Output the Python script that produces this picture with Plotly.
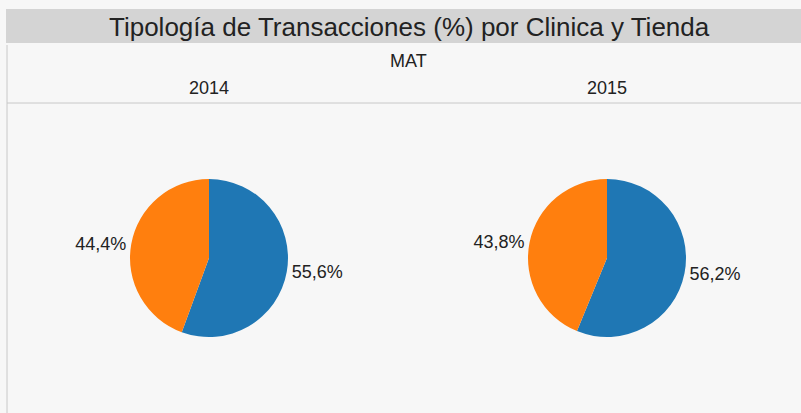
import plotly.graph_objects as go

title = "Tipología de Transacciones (%) por Clinica y Tienda"
header = "MAT"
years = ["2014", "2015"]
segments = ["Clinica", "Tienda"]
values_2014 = [55.6, 44.4]
values_2015 = [56.2, 43.8]
colors = ["#1f77b4", "#ff7f0e"]

W, H = 801, 413

fig = go.Figure()

# posiciones de cada pie (centro en px)
centers = [209, 607]
cy = 258
r = 79

for year, vals, cx in zip(years, [values_2014, values_2015], centers):
    fig.add_trace(go.Pie(
        labels=segments,
        values=vals,
        sort=False,
        direction="clockwise",
        rotation=0,
        marker=dict(colors=colors, line=dict(width=0)),
        textposition="outside",
        texttemplate="%{value:.1f}%",
        textfont=dict(size=18, color="#222222"),
        showlegend=False,
        domain=dict(x=[(cx - r) / W, (cx + r) / W],
                    y=[(H - cy - r) / H, (H - cy + r) / H]),
        name=year,
    ))

# barra del título
fig.add_shape(type="rect", xref="paper", yref="paper",
              x0=6 / W, x1=1, y0=1 - 43 / H, y1=1 - 9 / H,
              fillcolor="#d4d4d4", line=dict(width=0), layer="below")
# líneas de la cabecera
fig.add_shape(type="line", xref="paper", yref="paper",
              x0=7 / W, x1=7 / W, y0=0, y1=1 - 45 / H,
              line=dict(color="#c8c8c8", width=1))
fig.add_shape(type="line", xref="paper", yref="paper",
              x0=7 / W, x1=1, y0=1 - 103 / H, y1=1 - 103 / H,
              line=dict(color="#c8c8c8", width=1))

fig.add_annotation(text=title, x=409 / W, y=1 - 27 / H, xref="paper", yref="paper",
                   xanchor="center", yanchor="middle",
                   showarrow=False, font=dict(size=26, color="#222222"))
fig.add_annotation(text=header, x=408 / W, y=1 - 61 / H, xref="paper", yref="paper",
                   xanchor="center", yanchor="middle",
                   showarrow=False, font=dict(size=18, color="#222222"))
for year, cx in zip(years, centers):
    fig.add_annotation(text=year, x=cx / W, y=1 - 88 / H, xref="paper", yref="paper",
                       xanchor="center", yanchor="middle",
                       showarrow=False, font=dict(size=18, color="#222222"))

fig.update_layout(
    width=W, height=H,
    margin=dict(l=0, r=0, t=0, b=0),
    paper_bgcolor="#f7f7f7",
    plot_bgcolor="#f7f7f7",
    separators=",.",
    font=dict(family="Liberation Sans, Arial, sans-serif"),
)

fig.write_html("out.html", config={"displayModeBar": False},
               post_script="document.body.style.margin='0';")
